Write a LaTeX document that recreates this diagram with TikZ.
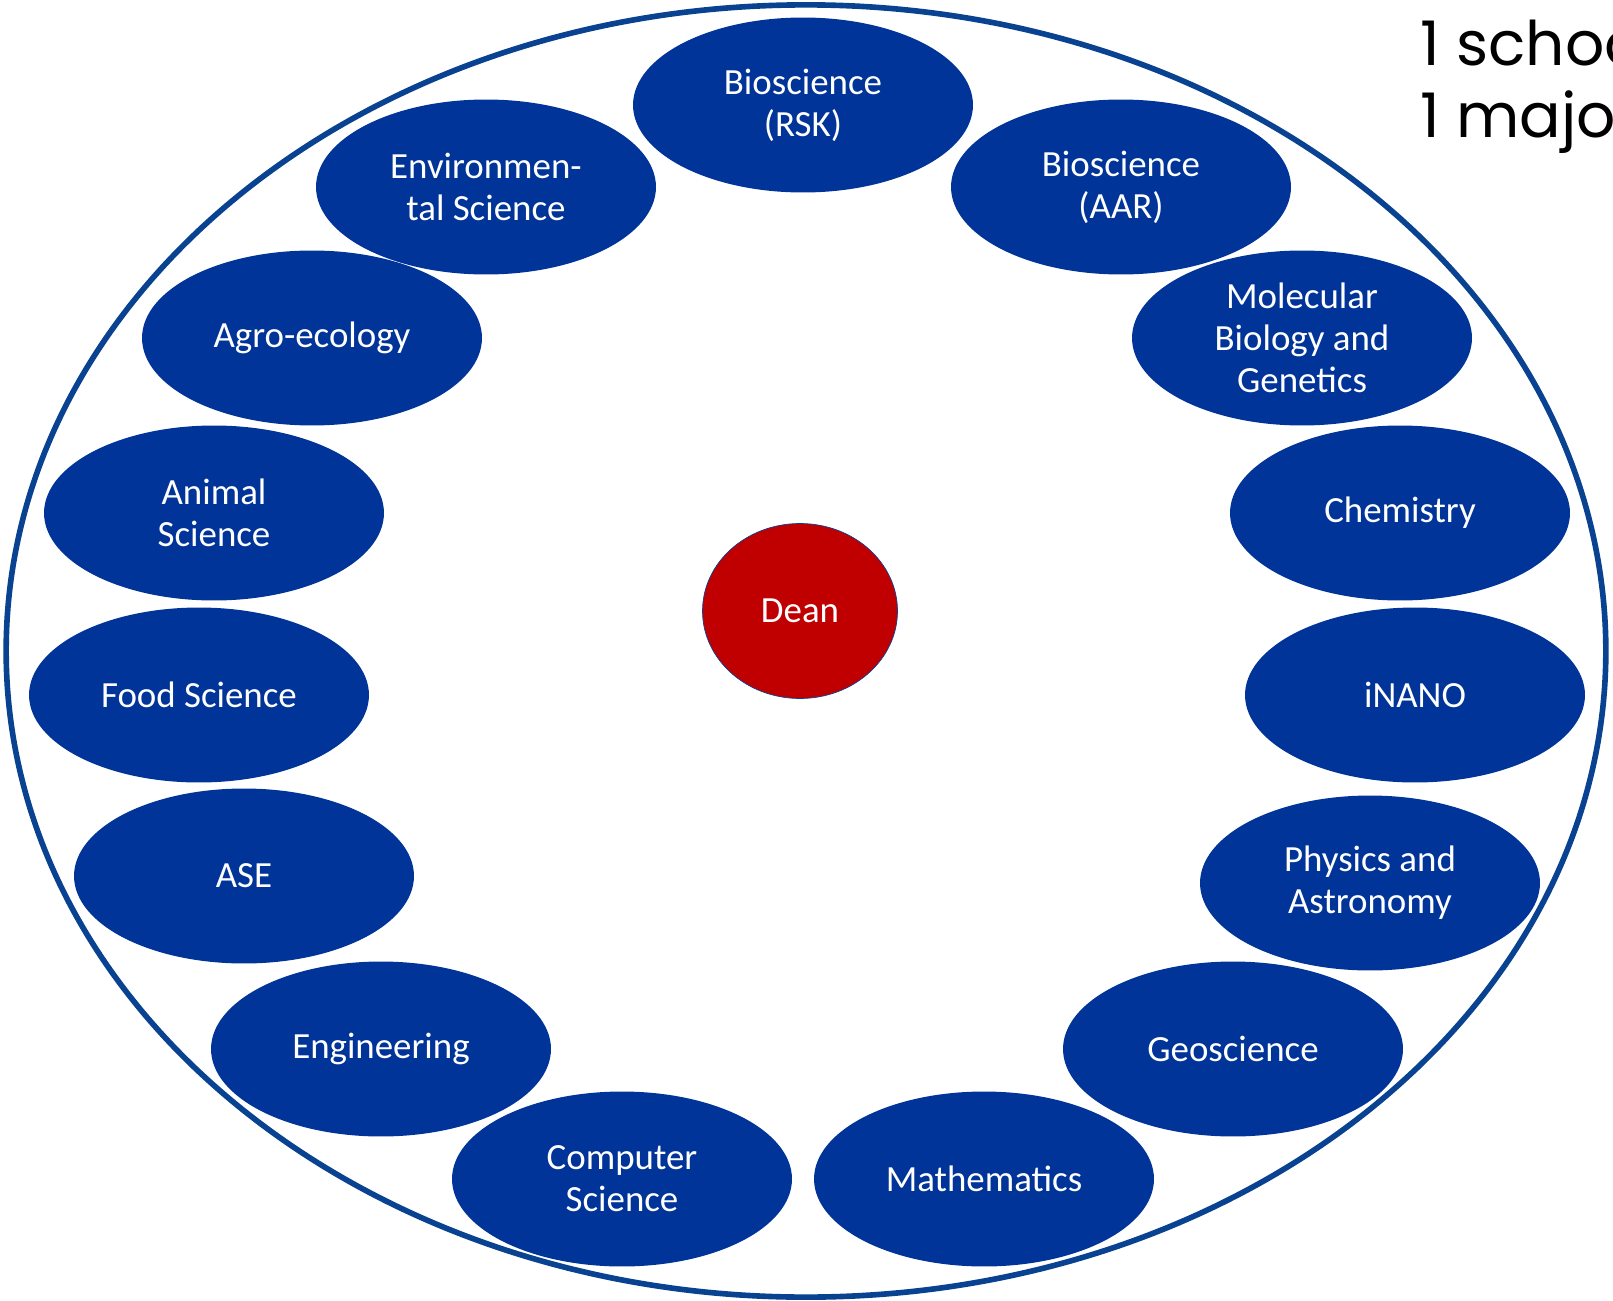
\documentclass[tikz,border=0pt]{standalone}
\usepackage{fontspec}
\setmainfont{Carlito}
\newfontfamily\notefont{Poppins}
\usetikzlibrary{shapes}
\definecolor{deptblue}{RGB}{0,52,152}
\definecolor{ringblue}{RGB}{8,66,145}
\definecolor{deanred}{RGB}{192,0,0}
\tikzstyle{dept} = [ellipse, fill=deptblue, minimum width=6.8cm, minimum height=3.5cm, inner sep=0pt, text=white, align=center, font=\fontsize{21}{24}\selectfont]
\tikzstyle{dean} = [ellipse, fill=deanred, draw=ringblue, thin, minimum width=3.9cm, minimum height=3.5cm, inner sep=0pt, text=white, font=\fontsize{21}{24}\selectfont]
\tikzstyle{ring} = [draw=ringblue, line width=3.2pt]

\begin{document}
\begin{tikzpicture}[x=0.02cm, y=-0.02cm]
\useasboundingbox (0,0) rectangle (1613,1301);
\clip (0,0) rectangle (1613,1301);
% outer ring
\node (ring) [ring, ellipse, minimum width=32.0cm, minimum height=25.85cm, inner sep=0pt] at (806,651) {};

% nodes
\node (rsk) [dept] at (803,105) {Bioscience\\(RSK)};
\node (env) [dept] at (486,187) {Environmen-\\tal Science};
\node (aar) [dept] at (1121,187) {Bioscience\\(AAR)};
\node (agro) [dept] at (312,338) {Agro-ecology};
\node (mbg) [dept] at (1302,338) {Molecular\\Biology and\\Genetics};
\node (anim) [dept] at (214,513) {Animal\\Science};
\node (chem) [dept] at (1400,513) {Chemistry};
\node (food) [dept] at (199,695) {Food Science};
\node (inano) [dept] at (1415,695) {iNANO};
\node (ase) [dept] at (244,876) {ASE};
\node (phys) [dept] at (1370,883) {Physics and\\Astronomy};
\node (eng) [dept] at (381,1049) {Engineering};
\node (geo) [dept] at (1233,1049) {Geoscience};
\node (cs) [dept] at (622,1179) {Computer\\Science};
\node (math) [dept] at (984,1179) {Mathematics};

\node (dean) [dean] at (800,611) {Dean};

% note
\node (note) [anchor=north west, align=left, inner sep=0pt, font=\notefont\fontsize{35}{41}\selectfont] at (1420,20) {1 school\\1 major};
\end{tikzpicture}
\end{document}
